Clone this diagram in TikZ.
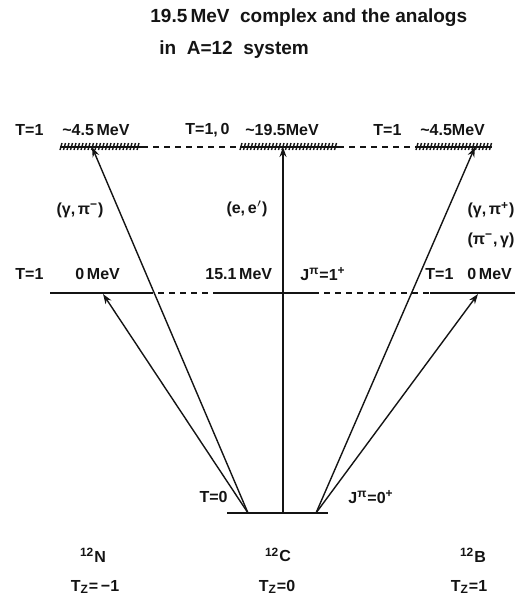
\documentclass[tikz,border=0pt]{standalone}
\usepackage{fontspec}
\setmainfont{Liberation Sans}
\usetikzlibrary{arrows.meta}
\definecolor{inkblack}{RGB}{20,20,20}

\begin{document}
\begin{tikzpicture}[x=0.5pt,y=-0.5pt,
  lbl/.style={font=\fontsize{8}{9}\selectfont\bfseries, text=inkblack, inner sep=0pt},
  ttl/.style={font=\fontsize{9.5}{11}\selectfont\bfseries, text=inkblack, inner sep=0pt},
  level/.style={inkblack, line width=1pt},
  gap/.style={inkblack, line width=0.8pt, dash pattern=on 3pt off 2.5pt},
  trans/.style={inkblack, line width=0.7pt, -{Stealth[length=5pt,width=3.5pt]}}]
\useasboundingbox (0,0) rectangle (530,612);
% title
\node[ttl, anchor=west] (title1) at (150,18) {19.5\,MeV\ \ complex and the analogs};
\node[ttl, anchor=west] (title2) at (159,50) {in\ \ A=12\ \ system};
% top level, about 4.5 and 19.5 MeV
\draw[level] (60,147) -- (142,147);
\draw[level] (240,147) -- (338,147);
\draw[level] (416,147) -- (492,147);
\foreach \x in {61,64.5,...,141} \draw[inkblack, line width=0.7pt] (\x-1,150) -- (\x+1,143);
\foreach \x in {241,244.5,...,337} \draw[inkblack, line width=0.7pt] (\x-1,150) -- (\x+1,143);
\foreach \x in {417,420.5,...,491} \draw[inkblack, line width=0.7pt] (\x-1,150) -- (\x+1,143);
\draw[gap] (142,147) -- (240,147);
\draw[gap] (338,147) -- (416,147);
\node[lbl, anchor=west] (tN) at (15,130) {T=1};
\node[lbl, anchor=west] (eN) at (62,130) {\textasciitilde4.5\,MeV};
\node[lbl, anchor=west] (tC) at (185,130) {T=1,\,0};
\node[lbl, anchor=west] (eC) at (245,130) {\textasciitilde19.5MeV};
\node[lbl, anchor=west] (tB) at (373,130) {T=1};
\node[lbl, anchor=west] (eB) at (420,130) {\textasciitilde4.5MeV};
% middle level, 0 and 15.1 MeV
\draw[level] (50,293) -- (147,293);
\draw[level] (213,293) -- (313,293);
\draw[level] (430,293) -- (515,293);
\draw[gap] (147,293) -- (213,293);
\draw[gap] (313,293) -- (430,293);
\node[lbl, anchor=west] (mtN) at (15,274) {T=1};
\node[lbl, anchor=west] (meN) at (75,274) {0\,MeV};
\node[lbl, anchor=west] (meC) at (205,274) {15.1\,MeV};
\node[lbl, anchor=west] (mjC) at (300,274) {J\textsuperscript{π}=1\textsuperscript{+}};
\node[lbl, anchor=west] (mtB) at (425,274) {T=1};
\node[lbl, anchor=west] (meB) at (467,274) {0\,MeV};
% ground state of 12C
\draw[level] (227,513) -- (328,513);
\node[lbl, anchor=east] (gT) at (228,497) {T=0};
\node[lbl, anchor=west] (gJ) at (348,497) {J\textsuperscript{π}=0\textsuperscript{+}};
\coordinate (gsL) at (248,513);
\coordinate (gsC) at (283,513);
\coordinate (gsR) at (316,513);
\coordinate (topN) at (92,147);
\coordinate (topC) at (283,147);
\coordinate (topB) at (475,147);
\coordinate (midN) at (103,294);
\coordinate (midB) at (478,294);
% transitions
\draw[trans] (gsL) -- (topN);
\draw[trans] (gsL) -- (midN);
\draw[trans] (gsC) -- (topC);
\draw[trans] (gsR) -- (topB);
\draw[trans] (gsR) -- (midB);
\node[lbl] (rN) at (80,210) {(γ,\,π\textsuperscript{−})};
\node[lbl] (rC) at (247,209) {(e,\,e$'$)};
\node[lbl] (rB1) at (491,210) {(γ,\,π\textsuperscript{+})};
\node[lbl] (rB2) at (491,240) {(π\textsuperscript{−},\,γ)};
% nuclei
\node[lbl] (nN) at (93,555) {\textsuperscript{12}N};
\node[lbl] (nC) at (278,555) {\textsuperscript{12}C};
\node[lbl] (nB) at (473,555) {\textsuperscript{12}B};
\node[lbl] (zN) at (95,587) {T\textsubscript{Z}=\,−1};
\node[lbl] (zC) at (277,587) {T\textsubscript{Z}=0};
\node[lbl] (zB) at (469,587) {T\textsubscript{Z}=1};
\end{tikzpicture}
\end{document}
